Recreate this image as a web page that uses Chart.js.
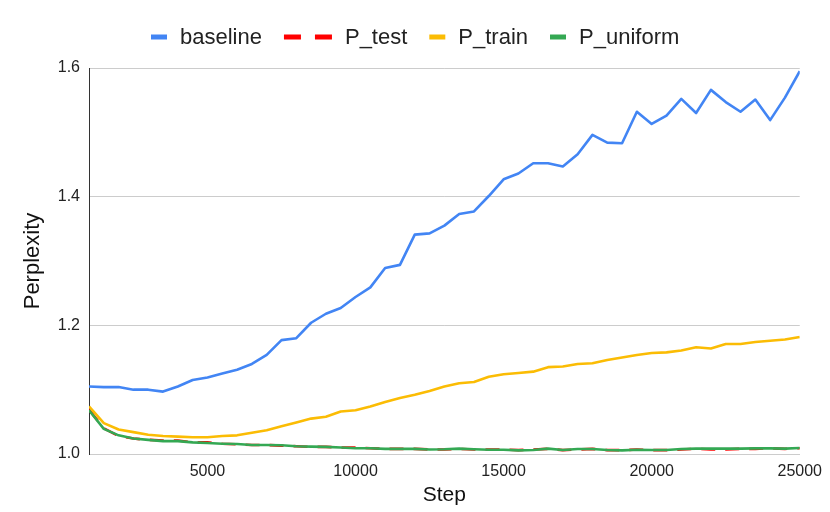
<!DOCTYPE html>
<html><head><meta charset="utf-8">
<script src="https://cdn.jsdelivr.net/npm/chart.js@4"></script>
<style>html,body{margin:0;padding:0;background:#fff}#wrap{width:830px;height:512px;position:relative}</style>
</head><body><div id="wrap"><canvas id="c" width="830" height="512"></canvas></div>
<script>
const steps = [1000,1500,2000,2500,3000,3500,4000,4500,5000,5500,6000,6500,7000,7500,8000,8500,9000,9500,10000,10500,11000,11500,12000,12500,13000,13500,14000,14500,15000,15500,16000,16500,17000,17500,18000,18500,19000,19500,20000,20500,21000,21500,22000,22500,23000,23500,24000,24500,25000];
const baseline = [1.105,1.104,1.104,1.100,1.100,1.097,1.105,1.115,1.119,1.125,1.131,1.140,1.154,1.177,1.180,1.204,1.218,1.227,1.244,1.259,1.289,1.294,1.341,1.343,1.355,1.373,1.377,1.401,1.427,1.436,1.452,1.452,1.447,1.466,1.496,1.484,1.483,1.532,1.513,1.526,1.552,1.530,1.566,1.547,1.532,1.551,1.519,1.554,1.595];
const pTest = [1.069,1.040,1.028,1.024,1.022,1.021,1.021,1.018,1.018,1.016,1.015,1.014,1.014,1.013,1.012,1.011,1.011,1.010,1.010,1.009,1.008,1.008,1.008,1.007,1.007,1.008,1.007,1.007,1.007,1.006,1.007,1.008,1.006,1.007,1.008,1.006,1.006,1.007,1.006,1.006,1.007,1.008,1.007,1.007,1.008,1.008,1.009,1.008,1.009];
const pTrain = [1.074,1.048,1.038,1.034,1.030,1.028,1.027,1.026,1.026,1.028,1.029,1.033,1.037,1.043,1.049,1.055,1.058,1.066,1.068,1.074,1.081,1.087,1.092,1.098,1.105,1.110,1.112,1.120,1.124,1.126,1.128,1.135,1.136,1.140,1.141,1.146,1.150,1.154,1.157,1.158,1.161,1.166,1.164,1.171,1.171,1.174,1.176,1.178,1.182];
const pUniform = [1.068,1.039,1.029,1.024,1.022,1.020,1.020,1.018,1.017,1.016,1.0155,1.014,1.014,1.0135,1.012,1.0114,1.011,1.010,1.009,1.009,1.008,1.008,1.008,1.007,1.0073,1.0083,1.0073,1.0067,1.0067,1.0057,1.0062,1.0083,1.0062,1.0078,1.0078,1.0062,1.0057,1.0067,1.0062,1.0062,1.0078,1.0083,1.0083,1.0083,1.0083,1.0088,1.0088,1.0083,1.0093];
const xTicks = [5000,10000,15000,20000,25000];
const yTicks = [1.0,1.2,1.4,1.6];
const seriesNames = ['baseline','P_test','P_train','P_uniform'];
const seriesColors = ['#4285F4','#FF0000','#FBBC04','#34A853'];

const FONT = '"Liberation Sans", Arial, sans-serif';
const pts = vals => steps.map((s,i)=>({x:s,y:vals[i]}));

const legendPlugin = {
  id: 'sheetLegend',
  afterDraw(chart) {
    const ctx = chart.ctx;
    ctx.save();
    ctx.font = '22px ' + FONT;
    const items = chart.data.datasets.map(ds => ({text: ds.label, color: ds.borderColor, dash: !!(ds.borderDash && ds.borderDash.length)}));
    const mw = it => it.dash ? 48 : 16;
    const gapMT = 13, gapItem = 22;
    let total = 0;
    items.forEach((it,i)=>{ total += mw(it)+gapMT+ctx.measureText(it.text).width + (i<items.length-1?gapItem:0); });
    let x = Math.round((chart.width - total)/2);
    const y = 37;
    items.forEach(it=>{
      ctx.strokeStyle = it.color; ctx.lineWidth = 5; ctx.lineCap = 'butt';
      ctx.setLineDash(it.dash ? [17,14] : []);
      ctx.beginPath(); ctx.moveTo(x, y); ctx.lineTo(x+mw(it), y); ctx.stroke();
      ctx.setLineDash([]);
      x += mw(it) + gapMT;
      ctx.fillStyle = '#222'; ctx.textBaseline = 'middle'; ctx.textAlign = 'left';
      ctx.fillText(it.text, x, y+1);
      x += ctx.measureText(it.text).width + gapItem;
    });
    ctx.restore();
  }
};

new Chart(document.getElementById('c'), {
  type: 'line',
  data: {
    datasets: [
      {label: seriesNames[0], data: pts(baseline), borderColor: seriesColors[0], order: 3},
      {label: seriesNames[1], data: pts(pTest), borderColor: seriesColors[1], borderDash: [14,10], order: 2},
      {label: seriesNames[2], data: pts(pTrain), borderColor: seriesColors[2], order: 1},
      {label: seriesNames[3], data: pts(pUniform), borderColor: seriesColors[3], order: 0}
    ]
  },
  options: {
    responsive: false,
    devicePixelRatio: 1,
    animation: false,
    layout: {padding: {top: 68, right: 30, left: 0, bottom: 0}},
    elements: {
      line: {borderWidth: 2.6, tension: 0, fill: false, borderJoinStyle: 'round'},
      point: {radius: 0, hoverRadius: 0}
    },
    plugins: {legend: {display: false}, tooltip: {enabled: false}},
    scales: {
      x: {
        type: 'linear', min: 1000, max: 25000,
        afterBuildTicks: s => { s.ticks = xTicks.map(v=>({value:v})); },
        afterFit: s => { s.height = 58; },
        grid: {display: false, drawTicks: false},
        border: {display: true, color: '#cccccc', width: 1},
        ticks: {color: '#222', font: {size: 16, family: FONT}, padding: 8, maxRotation: 0, callback: v => String(v)},
        title: {display: true, text: 'Step', color: '#111', font: {size: 21, family: FONT}, padding: {top: 0, bottom: 4}}
      },
      y: {
        min: 1.0, max: 1.6,
        afterBuildTicks: s => { s.ticks = yTicks.map(v=>({value:v})); },
        afterFit: s => { s.width = 89; },
        grid: {color: '#cccccc', lineWidth: 1, drawTicks: false},
        border: {display: true, color: '#333', width: 1},
        ticks: {color: '#222', font: {size: 16, family: FONT}, padding: 9, callback: v => Number(v).toFixed(1)},
        title: {display: true, text: 'Perplexity', color: '#111', font: {size: 22, family: FONT}, padding: {top: 20, bottom: 0}}
      }
    }
  },
  plugins: [legendPlugin]
});
</script></body></html>
